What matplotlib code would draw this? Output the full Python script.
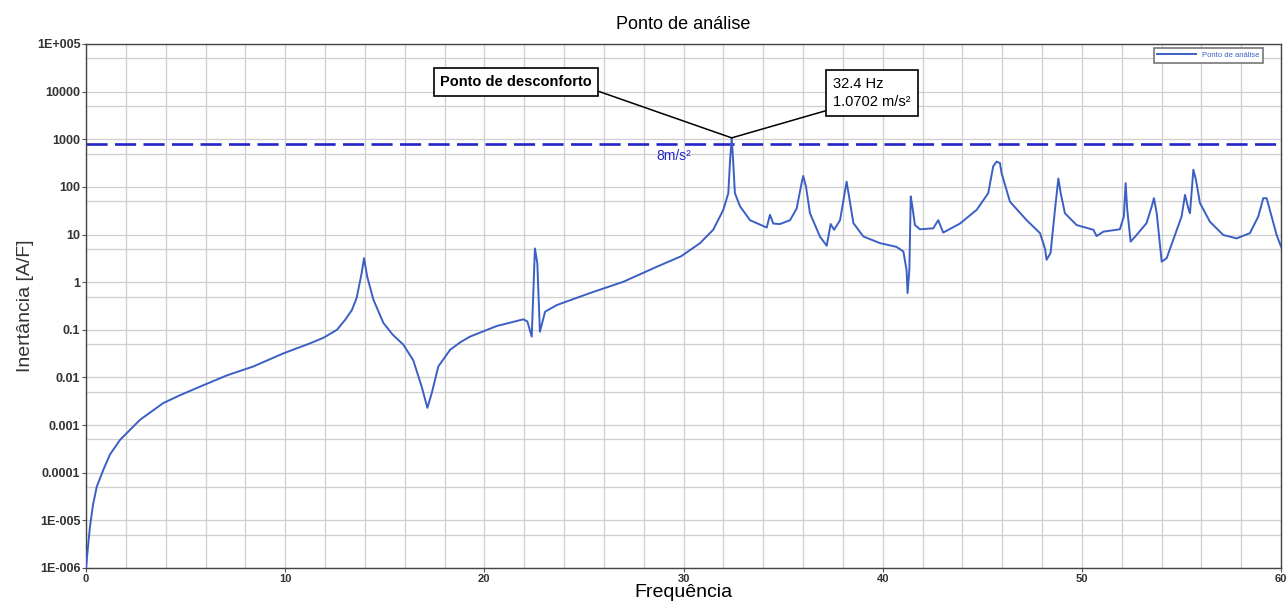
import numpy as np
import matplotlib
matplotlib.use("Agg")
import matplotlib.pyplot as plt
from matplotlib.ticker import FixedLocator, FixedFormatter, MultipleLocator

plt.rcParams['font.family'] = ['Liberation Sans', 'DejaVu Sans']

# frequencia (Hz) e inertancia
freq = [0.0, 0.1, 0.2, 0.35, 0.54, 0.87, 1.2, 1.71, 2.2, 2.71, 3.88, 4.7, 5.56,
        6.3, 7.06, 8.40, 9.91, 11.25, 11.92, 12.6, 13.0, 13.35, 13.59, 13.84,
        13.96, 14.12, 14.43, 14.93, 15.4, 15.93, 16.43, 16.85, 17.14, 17.36,
        17.69, 18.28, 18.8, 19.28, 20.62, 21.96, 22.16, 22.38, 22.54, 22.66,
        22.79, 23.05, 23.63, 25.3, 26.98, 28.65, 29.88, 30.83, 31.49, 32.0,
        32.25, 32.33, 32.42, 32.50, 32.58, 32.84, 33.34, 34.18, 34.34, 34.51,
        34.84, 35.35, 35.68, 35.93, 36.01, 36.15, 36.35, 36.85, 37.19, 37.39,
        37.56, 37.86, 38.06, 38.19, 38.31, 38.53, 39.03, 39.87, 40.70, 41.04,
        41.20, 41.25, 41.34, 41.41, 41.49, 41.62, 41.87, 42.54, 42.79, 43.04,
        43.88, 44.72, 45.30, 45.55, 45.72, 45.89, 45.97, 46.39, 47.23, 47.90,
        48.15, 48.23, 48.43, 48.65, 48.82, 48.94, 49.15, 49.74, 50.58, 50.74,
        51.08, 51.91, 52.11, 52.20, 52.28, 52.45, 52.75, 53.25, 53.51, 53.62,
        53.76, 54.01, 54.26, 54.59, 55.01, 55.18, 55.35, 55.43, 55.60, 55.73,
        55.93, 56.43, 57.10, 57.77, 58.44, 58.86, 59.11, 59.28, 59.53, 59.78,
        60.0]
inert = [1e-6, 2.8e-6, 7.4e-6, 2.1e-5, 5.1e-5, 1.15e-4, 2.4e-4, 4.9e-4, 7.9e-4,
         1.29e-3, 2.9e-3, 4.2e-3, 6.0e-3, 8.1e-3, 0.011, 0.017, 0.032, 0.052,
         0.068, 0.10, 0.16, 0.26, 0.47, 1.55, 3.2, 1.3, 0.43, 0.14, 0.079,
         0.049, 0.023, 0.0065, 0.0023, 0.0047, 0.017, 0.038, 0.055, 0.072,
         0.12, 0.166, 0.15, 0.072, 5.1, 2.5, 0.091, 0.24, 0.33, 0.59, 1.02,
         2.1, 3.5, 6.6, 12.6, 33, 74, 316, 1070, 316, 74, 39, 20, 14, 26, 17,
         16.6, 20, 35, 120, 170, 102, 28, 9.1, 5.8, 16.6, 12.6, 20, 63, 129,
         63, 17.4, 9.1, 6.6, 5.5, 4.4, 1.8, 0.59, 1.8, 63, 39, 15.8, 12.9,
         13.5, 20, 11, 17, 33, 74, 270, 340, 316, 195, 49, 20, 10.7, 5.1,
         2.95, 4.1, 33, 150, 74, 28, 15.8, 12.6, 9.3, 11.5, 12.9, 24, 120,
         33, 7.1, 9.8, 17.4, 39, 58, 28, 2.7, 3.2, 7.8, 24, 68, 35, 28, 230,
         141, 46, 18.6, 9.8, 8.3, 10.7, 24, 58, 58, 24, 9.8, 5.6]

limite = 800          # linha de 8 m/s2
pico_f = 32.42
pico_v = 1070

ytick_vals = [1e-6, 1e-5, 1e-4, 1e-3, 1e-2, 1e-1, 1, 10, 100, 1000, 1e4, 1e5]
ytick_lbls = ['1E-006', '1E-005', '0.0001', '0.001', '0.01', '0.1', '1', '10',
              '100', '1000', '10000', '1E+005']

fig = plt.figure(figsize=(12.88, 6.08), dpi=100)
ax = fig.add_axes([86/1288, 1-568/608, (1281-86)/1288, (568-44)/608])

ax.plot(freq, inert, color='#3b5fc4', lw=1.4, label='Ponto de análise', zorder=3)
ax.axhline(limite, color='#2424c8', lw=1.9, dashes=(8, 2.8), zorder=2)
ax.text(29.5, 447, '8m/s²', color='#2424c8', fontsize=10, ha='center', va='center')

ax.set_yscale('log')
ax.set_xlim(0, 60)
ax.set_ylim(1e-6, 1e5)
ax.yaxis.set_major_locator(FixedLocator(ytick_vals))
ax.yaxis.set_major_formatter(FixedFormatter(ytick_lbls))
ax.yaxis.set_minor_locator(FixedLocator([5 * v for v in ytick_vals[:-1]]))
ax.yaxis.set_minor_formatter(FixedFormatter([]))
ax.xaxis.set_major_locator(MultipleLocator(10))
ax.xaxis.set_minor_locator(MultipleLocator(2))

ax.grid(True, which='both', color='#cfcfcf', lw=0.9, zorder=0)
ax.tick_params(axis='y', which='major', labelsize=9, length=3, color='#555555', pad=1)
ax.tick_params(axis='x', which='major', labelsize=8, length=3, color='#555555', pad=1)
ax.tick_params(which='minor', length=0)
for lbl in ax.get_yticklabels() + ax.get_xticklabels():
    lbl.set_fontweight('bold')
    lbl.set_color('#333333')
for sp in ax.spines.values():
    sp.set_color('#444444')
    sp.set_linewidth(1.0)

ax.set_title('Ponto de análise', fontsize=13, pad=11)
ax.set_xlabel('Frequência', fontsize=14, labelpad=0)
ax.set_ylabel('Inertância [A/F]', fontsize=14, labelpad=2, color='#333333')

leg = ax.legend(loc='upper right', fontsize=5.5, labelcolor='#3b5fc4', fancybox=False,
                edgecolor='#777777', framealpha=1, handlelength=5, borderpad=0.5,
                bbox_to_anchor=(0.988, 1.0))
leg.get_frame().set_linewidth(1.2)

ax.annotate('Ponto de desconforto', xy=(pico_f, pico_v), xytext=(516, 526),
            textcoords='figure pixels', ha='center', va='center',
            fontsize=10.5, fontweight='bold',
            bbox=dict(boxstyle='square,pad=0.45', fc='white', ec='black', lw=1.2),
            arrowprops=dict(arrowstyle='-', color='black', lw=1.1,
                            relpos=(1, 0), shrinkA=0, shrinkB=0))
ax.annotate('32.4 Hz\n1.0702 m/s²', xy=(pico_f, pico_v), xytext=(833, 515),
            textcoords='figure pixels', ha='left', va='center',
            fontsize=10.5, linespacing=1.3,
            bbox=dict(boxstyle='square,pad=0.5', fc='white', ec='black', lw=1.2),
            arrowprops=dict(arrowstyle='-', color='black', lw=1.1,
                            relpos=(0, 0), shrinkA=0, shrinkB=0))

fig.savefig('out.png', dpi=100)
